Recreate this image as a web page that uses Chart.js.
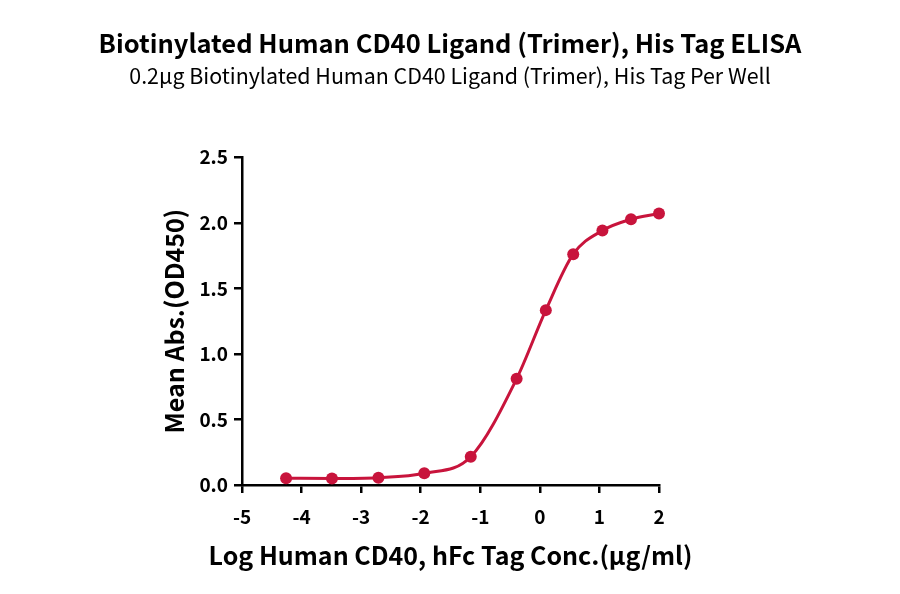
<!DOCTYPE html>
<html>
<head>
<meta charset="utf-8">
<script src="https://cdn.jsdelivr.net/npm/chart.js@4"></script>
<style>
  html, body { margin: 0; padding: 0; background: #fff; }
  #wrap { width: 900px; height: 594px; }
</style>
</head>
<body>
<div id="wrap"><canvas id="elisaChart" width="900" height="594"></canvas></div>
<script>
// --- data ---
const logConc = [-4.26, -3.49, -2.71, -1.94, -1.16, -0.39, 0.10, 0.56, 1.05, 1.53, 2.00];
const meanAbs = [0.051, 0.050, 0.056, 0.089, 0.216, 0.81, 1.334, 1.761, 1.941, 2.027, 2.071];
const xTicks = [-5, -4, -3, -2, -1, 0, 1, 2];
const yTicks = [0, 0.5, 1.0, 1.5, 2.0, 2.5];
const xTitle = 'Log Human CD40, hFc Tag Conc.(\u03bcg/ml)';

const FONT = '"Noto Sans CJK SC", "Noto Sans", sans-serif';
const RED = '#c8143c';

const points = logConc.map((x, i) => ({ x: x, y: meanAbs[i] }));

// x axis title drawn here: the built-in one gets squeezed to the plot width
const xTitlePlugin = {
    id: 'xTitle',
    afterDraw(chart) {
        const { ctx, chartArea } = chart;
        ctx.save();
        ctx.fillStyle = '#000';
        ctx.font = 'bold 25px ' + FONT;
        ctx.textAlign = 'center';
        ctx.textBaseline = 'middle';
        ctx.fillText(xTitle, (chartArea.left + chartArea.right) / 2, 555);
        ctx.restore();
    }
};

const ctx = document.getElementById('elisaChart').getContext('2d');
new Chart(ctx, {
    type: 'line',
    data: {
        datasets: [{
            data: points,
            borderColor: RED,
            backgroundColor: RED,
            borderWidth: 3,
            pointRadius: 6,
            pointBackgroundColor: RED,
            pointBorderWidth: 0,
            cubicInterpolationMode: 'monotone',
            clip: false,
            fill: false
        }]
    },
    plugins: [xTitlePlugin],
    options: {
        responsive: false,
        animation: false,
        layout: { padding: 0 },
        plugins: {
            legend: { display: false },
            tooltip: { enabled: false },
            title: {
                display: true,
                text: 'Biotinylated Human CD40 Ligand (Trimer), His Tag ELISA',
                color: '#000',
                font: { family: FONT, size: 25.5, weight: 'bold', lineHeight: 1.2 },
                padding: { top: 28, bottom: 4 }
            },
            subtitle: {
                display: true,
                text: '0.2\u03bcg Biotinylated Human CD40 Ligand (Trimer), His Tag Per Well',
                color: '#000',
                font: { family: FONT, size: 21.4, lineHeight: 1.2 },
                padding: { top: 0, bottom: 69 }
            }
        },
        scales: {
            x: {
                type: 'linear',
                min: -5,
                max: 2,
                afterBuildTicks: s => { s.ticks = xTicks.map(v => ({ value: v })); },
                afterFit: s => { s.height = 109; },
                border: { display: true, color: '#000', width: 2.5 },
                grid: { drawOnChartArea: false, drawTicks: true, tickLength: 8, color: '#000', lineWidth: 2.5 },
                ticks: {
                    color: '#000',
                    padding: 12,
                    font: { family: FONT, size: 19, weight: 'bold' },
                    maxRotation: 0,
                    callback: v => String(v)
                },
                title: { display: false }
            },
            y: {
                type: 'linear',
                min: 0,
                max: 2.5,
                afterBuildTicks: s => { s.ticks = yTicks.map(v => ({ value: v })); },
                afterFit: s => { s.width = 242; },
                border: { display: true, color: '#000', width: 2.5 },
                grid: { drawOnChartArea: false, drawTicks: true, tickLength: 8, color: '#000', lineWidth: 2.5 },
                ticks: {
                    color: '#000',
                    padding: 6,
                    font: { family: FONT, size: 19, weight: 'bold' },
                    callback: v => v.toFixed(1)
                },
                title: {
                    display: true,
                    text: 'Mean Abs.(OD450)',
                    color: '#000',
                    font: { family: FONT, size: 25, weight: 'bold', lineHeight: 1.2 },
                    padding: { top: 159, bottom: 0 }
                }
            },
            // empty right-hand box so the plot sits where the reference puts it
            yRight: {
                type: 'linear',
                position: 'right',
                min: 0,
                max: 2.5,
                afterFit: s => { s.width = 241; },
                border: { display: false },
                grid: { display: false },
                ticks: { display: false }
            }
        }
    }
});
</script>
</body>
</html>
